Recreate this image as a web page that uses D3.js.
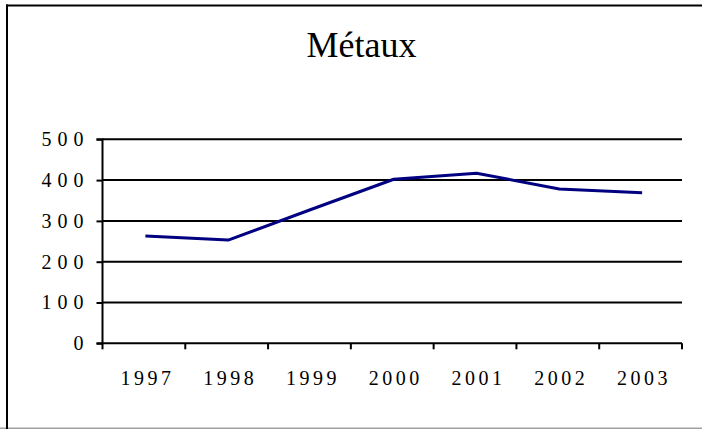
<!DOCTYPE html>
<html>
<head>
<meta charset="utf-8">
<script src="https://cdn.jsdelivr.net/npm/d3@7"></script>
</head>
<body style="margin:0;background:#fff">
<svg id="chart" width="702" height="429" style="display:block"></svg>
<script>
const title = "Métaux";
const years = ["1997", "1998", "1999", "2000", "2001", "2002", "2003"];
const values = [263, 253, 328, 402, 417, 378, 369];
const yTicks = [0, 100, 200, 300, 400, 500];

const FONT = '"Liberation Serif"';
const svg = d3.select("#chart");
const W = 702, H = 429;
const plot = { left: 102.5, right: 682, top: 139.3, bottom: 343.3 };

// frame
svg.append("line").attr("x1", 0).attr("x2", W).attr("y1", 428.3).attr("y2", 428.3)
  .attr("stroke", "#a0a0a0").attr("stroke-width", 1.5);
svg.append("line").attr("x1", 6).attr("x2", W).attr("y1", 5.5).attr("y2", 5.5)
  .attr("stroke", "#000").attr("stroke-width", 2);
svg.append("line").attr("x1", 7).attr("x2", 7).attr("y1", 4.5).attr("y2", 429)
  .attr("stroke", "#000").attr("stroke-width", 2);

svg.append("text").attr("x", 361.5).attr("y", 57)
  .attr("text-anchor", "middle")
  .style("font-family", FONT).style("font-size", "36px").style("fill", "#000")
  .text(title);

const x = d3.scaleBand().domain(years).range([plot.left, plot.right]).padding(0);
const y = d3.scaleLinear().domain([0, 500]).range([plot.bottom, plot.top]);

// gridlines
svg.append("g").selectAll("line").data(yTicks.filter(d => d > 0)).join("line")
  .attr("x1", plot.left).attr("x2", plot.right)
  .attr("y1", d => y(d)).attr("y2", d => y(d))
  .attr("stroke", "#000").attr("stroke-width", 2);

// y axis
const yAxis = d3.axisLeft(y).tickValues(yTicks).tickSize(6).tickPadding(13);
const gy = svg.append("g").attr("transform", `translate(${plot.left},0)`).call(yAxis);
gy.select(".domain").attr("stroke", "#000").attr("stroke-width", 2).attr("d", `M-6,${plot.bottom}H0V${plot.top}H-6`);
gy.selectAll(".tick line").attr("stroke", "#000").attr("stroke-width", 2);
gy.selectAll(".tick text")
  .style("font-family", FONT).style("font-size", "20px").style("fill", "#000")
  .style("letter-spacing", "6px").attr("dx", "6px");

// x axis
const xAxis = d3.axisBottom(x).tickSize(0).tickPadding(0);
const gx = svg.append("g").attr("transform", `translate(0,${plot.bottom})`).call(xAxis);
gx.select(".domain").attr("stroke", "#000").attr("stroke-width", 2).attr("d", `M${plot.left},0H${plot.right}`);
gx.selectAll(".tick line").remove();
gx.selectAll(".tick text")
  .style("font-family", FONT).style("font-size", "20px").style("fill", "#000")
  .style("letter-spacing", "3.5px").attr("dx", "3.5px")
  .attr("y", 42).attr("dy", 0);
// category boundary ticks
const bounds = years.map(d => x(d)).concat([x(years[years.length - 1]) + x.bandwidth()]);
svg.append("g").selectAll("line").data(bounds).join("line")
  .attr("x1", d => d).attr("x2", d => d)
  .attr("y1", plot.bottom).attr("y2", plot.bottom + 6)
  .attr("stroke", "#000").attr("stroke-width", 2);

// line
const line = d3.line().x((d, i) => x(years[i]) + x.bandwidth() / 2 + 1.5).y(d => y(d));
svg.append("path").datum(values).attr("d", line)
  .attr("fill", "none").attr("stroke", "#000080").attr("stroke-width", 3)
  .attr("stroke-linejoin", "round");
</script>
</body>
</html>
